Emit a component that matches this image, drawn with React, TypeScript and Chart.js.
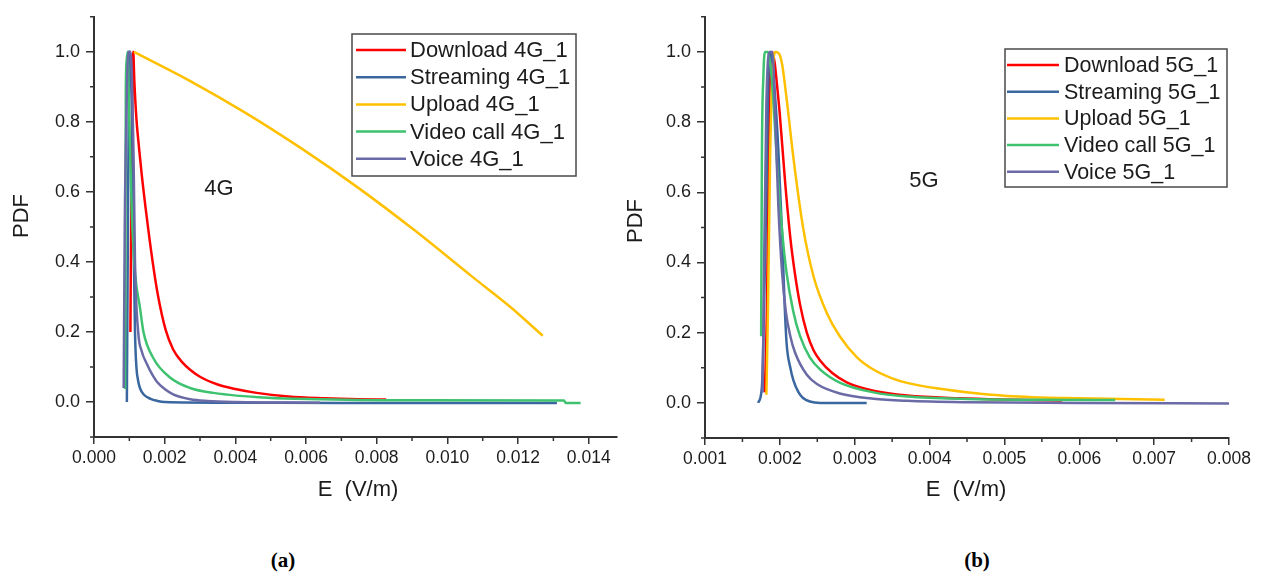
import { useEffect, useRef } from 'react';
import { Chart, registerables } from 'chart.js';

Chart.register(...registerables);

const FONT = '"Liberation Sans", Arial, sans-serif';
const AXIS = '#333333';
const TEXT = '#1c1c1c';

// ---------- colours / labels ----------
const seriesColors = ['#FF0000', '#3A67A0', '#FFC000', '#3EC270', '#6A6AA6'];
const labels4g = ['Download 4G_1', 'Streaming 4G_1', 'Upload 4G_1', 'Video call 4G_1', 'Voice 4G_1'];
const labels5g = ['Download 5G_1', 'Streaming 5G_1', 'Upload 5G_1', 'Video call 5G_1', 'Voice 5G_1'];

// ---------- 4G data (E in V/m, PDF) ----------
const download4gE = [0.00103, 0.00107, 0.00111, 0.00114, 0.0012, 0.00128, 0.00135, 0.00149, 0.00166, 0.0018, 0.00203, 0.00224, 0.0025, 0.00272, 0.003, 0.0035, 0.004, 0.0046, 0.0055, 0.0065, 0.0075, 0.00827];
const download4gPdf = [0.2, 0.75, 1.0, 0.92, 0.81, 0.72, 0.65, 0.53, 0.4, 0.31, 0.205, 0.15, 0.113, 0.092, 0.072, 0.05, 0.037, 0.026, 0.016, 0.011, 0.008, 0.007];

const streaming4gE = [0.00093, 0.00096, 0.00099, 0.00102, 0.00106, 0.0011, 0.00113, 0.00116, 0.0012, 0.00125, 0.0013, 0.0014, 0.0016, 0.0018, 0.002, 0.004, 0.007, 0.01, 0.0131];
const streaming4gPdf = [0.0, 0.5, 0.92, 1.0, 0.9, 0.65, 0.4, 0.2, 0.1, 0.06, 0.04, 0.022, 0.009, 0.003, 0.0, -0.002, -0.003, -0.003, -0.003];

const upload4gE = [0.00113, 0.0027, 0.0043, 0.0059, 0.0075, 0.0091, 0.0107, 0.0118, 0.0127];
const upload4gPdf = [1.0, 0.918, 0.825, 0.722, 0.61, 0.488, 0.358, 0.27, 0.189];

const video4gE = [0.00088, 0.0009, 0.00092, 0.00095, 0.001, 0.00107, 0.00116, 0.0013, 0.0014, 0.00168, 0.00215, 0.00272, 0.00338, 0.0049, 0.0064, 0.009, 0.0133, 0.01335, 0.01377];
const video4gPdf = [0.037, 0.88, 0.97, 1.0, 0.8, 0.54, 0.37, 0.27, 0.2, 0.125, 0.07, 0.04, 0.026, 0.012, 0.008, 0.005, 0.004, -0.003, -0.003];

const voice4gE = [0.00084, 0.00087, 0.00092, 0.00097, 0.00103, 0.00108, 0.00112, 0.00116, 0.00125, 0.00135, 0.00149, 0.00165, 0.00178, 0.002, 0.00224, 0.00272, 0.0032, 0.004, 0.0064];
const voice4gPdf = [0.04, 0.5, 0.83, 1.0, 1.0, 0.9, 0.7, 0.4, 0.2, 0.145, 0.11, 0.078, 0.058, 0.037, 0.022, 0.008, 0.003, 0.0, -0.002];

// ---------- 5G data ----------
const download5gE = [0.0018, 0.00183, 0.00186, 0.0019, 0.00193, 0.00196, 0.002, 0.00207, 0.00214, 0.0022, 0.00227, 0.00236, 0.00245, 0.00254, 0.0027, 0.0029, 0.00325, 0.0037, 0.0044, 0.005, 0.00577];
const download5gPdf = [0.03, 0.3, 0.87, 1.0, 0.97, 0.91, 0.82, 0.63, 0.47, 0.37, 0.28, 0.2, 0.15, 0.12, 0.085, 0.058, 0.035, 0.021, 0.013, 0.0095, 0.007];

const streaming5gE = [0.00171, 0.00176, 0.00178, 0.00182, 0.00185, 0.00188, 0.00192, 0.00198, 0.00203, 0.00206, 0.00209, 0.00214, 0.00218, 0.00225, 0.00231, 0.0024, 0.00254, 0.00316];
const streaming5gPdf = [0.0, 0.045, 0.18, 0.6, 0.95, 1.0, 0.92, 0.72, 0.48, 0.3, 0.17, 0.1, 0.065, 0.03, 0.014, 0.004, 0.0, 0.0];

const upload5gE = [0.00182, 0.00184, 0.00187, 0.0019, 0.00194, 0.00199, 0.00203, 0.00206, 0.0021, 0.00218, 0.00231, 0.00245, 0.00263, 0.0028, 0.00303, 0.00325, 0.0035, 0.0037, 0.00414, 0.00459, 0.00503, 0.006, 0.00714];
const upload5gPdf = [0.023, 0.25, 0.7, 0.93, 1.0, 0.995, 0.965, 0.92, 0.85, 0.7, 0.5, 0.36, 0.255, 0.19, 0.13, 0.095, 0.07, 0.057, 0.04, 0.028, 0.02, 0.013, 0.009];

const video5gE = [0.00175, 0.00176, 0.00178, 0.0018, 0.00184, 0.00188, 0.00192, 0.00196, 0.00203, 0.00209, 0.00218, 0.00227, 0.0024, 0.00254, 0.0028, 0.00325, 0.0037, 0.0045, 0.0055, 0.00648];
const video5gPdf = [0.19, 0.7, 0.93, 1.0, 1.0, 0.95, 0.84, 0.69, 0.49, 0.37, 0.26, 0.19, 0.13, 0.095, 0.058, 0.03, 0.018, 0.011, 0.009, 0.008];

const voice5gE = [0.00177, 0.00179, 0.00182, 0.00186, 0.0019, 0.00194, 0.00198, 0.00203, 0.00208, 0.00214, 0.0022, 0.00236, 0.0025, 0.0028, 0.00325, 0.0037, 0.0045, 0.006, 0.008];
const voice5gPdf = [0.03, 0.4, 0.85, 1.0, 1.0, 0.8, 0.56, 0.37, 0.26, 0.19, 0.145, 0.08, 0.053, 0.027, 0.012, 0.006, 0.002, 0.0, -0.002];

// ---------- ticks ----------
const yMajorTicks = [0, 0.2, 0.4, 0.6, 0.8, 1.0];
const yMinorTicks = [-0.1, 0.1, 0.3, 0.5, 0.7, 0.9, 1.1];
const x4gMajorTicks = [0, 0.002, 0.004, 0.006, 0.008, 0.01, 0.012, 0.014];
const x4gMinorTicks = [0.001, 0.003, 0.005, 0.007, 0.009, 0.011, 0.013];
const x5gMajorTicks = [0.001, 0.002, 0.003, 0.004, 0.005, 0.006, 0.007, 0.008];
const x5gMinorTicks = [0.0015, 0.0025, 0.0035, 0.0045, 0.0055, 0.0065, 0.0075];

type Series = { label: string; e: number[]; pdf: number[]; color: string };

const series4g: Series[] = [
  { label: labels4g[0], e: download4gE, pdf: download4gPdf, color: seriesColors[0] },
  { label: labels4g[1], e: streaming4gE, pdf: streaming4gPdf, color: seriesColors[1] },
  { label: labels4g[2], e: upload4gE, pdf: upload4gPdf, color: seriesColors[2] },
  { label: labels4g[3], e: video4gE, pdf: video4gPdf, color: seriesColors[3] },
  { label: labels4g[4], e: voice4gE, pdf: voice4gPdf, color: seriesColors[4] },
];
const series5g: Series[] = [
  { label: labels5g[0], e: download5gE, pdf: download5gPdf, color: seriesColors[0] },
  { label: labels5g[1], e: streaming5gE, pdf: streaming5gPdf, color: seriesColors[1] },
  { label: labels5g[2], e: upload5gE, pdf: upload5gPdf, color: seriesColors[2] },
  { label: labels5g[3], e: video5gE, pdf: video5gPdf, color: seriesColors[3] },
  { label: labels5g[4], e: voice5gE, pdf: voice5gPdf, color: seriesColors[4] },
];

type Decor = {
  minorX: number[];
  minorY: number[];
  legend: { x: number; y: number; w: number; h: number; lx1: number; lx2: number; tx: number; row0: number; gap: number; font: number };
  note: { text: string; x: number; y: number };
  xTitle: { text: string; x: number; y: number };
  yTitle: { text: string; x: number; y: number };
};

function makeDecor(d: Decor) {
  return {
    id: 'decor',
    afterDraw(chart: any) {
      const ctx: CanvasRenderingContext2D = chart.ctx;
      const xs = chart.scales.x;
      const ys = chart.scales.y;
      const a = chart.chartArea;
      ctx.save();
      // minor ticks
      ctx.strokeStyle = AXIS;
      ctx.lineWidth = 1.5;
      ctx.beginPath();
      d.minorX.forEach((v) => {
        const px = xs.getPixelForValue(v);
        ctx.moveTo(px, a.bottom);
        ctx.lineTo(px, a.bottom + 4);
      });
      d.minorY.forEach((v) => {
        const py = ys.getPixelForValue(v);
        ctx.moveTo(a.left, py);
        ctx.lineTo(a.left - 4, py);
      });
      ctx.stroke();

      // axis titles
      ctx.fillStyle = TEXT;
      ctx.font = `22px ${FONT}`;
      ctx.textAlign = 'center';
      ctx.textBaseline = 'middle';
      ctx.fillText(d.xTitle.text, d.xTitle.x, d.xTitle.y);
      ctx.save();
      ctx.translate(d.yTitle.x, d.yTitle.y);
      ctx.rotate(-Math.PI / 2);
      ctx.fillText(d.yTitle.text, 0, 0);
      ctx.restore();

      // annotation
      ctx.fillText(d.note.text, d.note.x, d.note.y);

      // legend
      const L = d.legend;
      ctx.strokeStyle = '#4a4a4a';
      ctx.lineWidth = 1.5;
      ctx.strokeRect(L.x, L.y, L.w, L.h);
      ctx.font = `${L.font}px ${FONT}`;
      ctx.textAlign = 'left';
      chart.data.datasets.forEach((ds: any, i: number) => {
        const y = L.row0 + i * L.gap;
        ctx.strokeStyle = ds.borderColor;
        ctx.lineWidth = 2.5;
        ctx.beginPath();
        ctx.moveTo(L.lx1, y);
        ctx.lineTo(L.lx2, y);
        ctx.stroke();
        ctx.fillStyle = TEXT;
        ctx.fillText(ds.label, L.tx, y + 1);
      });
      ctx.restore();
    },
  };
}

function buildChart(
  canvas: HTMLCanvasElement,
  series: Series[],
  xMin: number,
  xMax: number,
  xMajor: number[],
  yAxisWidth: number,
  xAxisHeight: number,
  padTop: number,
  padRight: number,
  decor: Decor,
) {
  return new Chart(canvas, {
    type: 'line',
    data: {
      datasets: series.map((s, i) => ({
        label: s.label,
        data: s.e.map((x, k) => ({ x, y: s.pdf[k] })),
        borderColor: s.color,
        backgroundColor: s.color,
        borderWidth: 2.5,
        pointRadius: 0,
        fill: false,
        cubicInterpolationMode: 'monotone' as const,
        order: series.length - i,
      })),
    },
    options: {
      animation: false,
      responsive: false,
      devicePixelRatio: 1,
      layout: { padding: { left: 0, top: padTop, right: padRight, bottom: 0 } },
      plugins: { legend: { display: false }, tooltip: { enabled: false } },
      scales: {
        x: {
          type: 'linear',
          min: xMin,
          max: xMax,
          afterBuildTicks: (scale: any) => {
            scale.ticks = xMajor.map((v) => ({ value: v }));
          },
          afterFit: (scale: any) => {
            scale.height = xAxisHeight;
          },
          ticks: {
            callback: (v: any) => Number(v).toFixed(3),
            font: { family: FONT, size: 17.5 },
            color: TEXT,
            padding: 4,
            maxRotation: 0,
            autoSkip: false,
          },
          grid: { drawOnChartArea: false, drawTicks: true, tickLength: 7, color: AXIS, lineWidth: 1.5 },
          border: { display: true, color: AXIS, width: 2 },
        },
        y: {
          type: 'linear',
          min: -0.1,
          max: 1.1,
          afterBuildTicks: (scale: any) => {
            scale.ticks = yMajorTicks.map((v) => ({ value: v }));
          },
          afterFit: (scale: any) => {
            scale.width = yAxisWidth;
          },
          ticks: {
            callback: (v: any) => Number(v).toFixed(1),
            font: { family: FONT, size: 18 },
            color: TEXT,
            padding: 6,
            autoSkip: false,
          },
          grid: { drawOnChartArea: false, drawTicks: true, tickLength: 8, color: AXIS, lineWidth: 1.5 },
          border: { display: true, color: AXIS, width: 2 },
        },
      },
    },
    plugins: [makeDecor(decor)],
  } as any);
}

export default function App() {
  const ref4g = useRef<HTMLCanvasElement>(null);
  const ref5g = useRef<HTMLCanvasElement>(null);

  useEffect(() => {
    document.body.style.margin = '0';
    const c1 = buildChart(ref4g.current!, series4g, 0, 0.0148, x4gMajorTicks, 94, 83, 11, 23, {
      minorX: x4gMinorTicks,
      minorY: yMinorTicks,
      legend: { x: 352, y: 34, w: 224, h: 142, lx1: 356, lx2: 406, tx: 410, row0: 50, gap: 27.2, font: 22 },
      note: { text: '4G', x: 219, y: 189 },
      xTitle: { text: 'E  (V/m)', x: 358, y: 490 },
      yTitle: { text: 'PDF', x: 22, y: 216 },
    });
    const c2 = buildChart(ref5g.current!, series5g, 0.001, 0.008, x5gMajorTicks, 95, 82, 16, 34, {
      minorX: x5gMinorTicks,
      minorY: yMinorTicks,
      legend: { x: 395, y: 49, w: 222, h: 138, lx1: 397, lx2: 449, tx: 454, row0: 65, gap: 26.7, font: 21.5 },
      note: { text: '5G', x: 314, y: 181 },
      xTitle: { text: 'E  (V/m)', x: 356, y: 490 },
      yTitle: { text: 'PDF', x: 26, y: 221 },
    });
    return () => {
      c1.destroy();
      c2.destroy();
    };
  }, []);

  const caption: React.CSSProperties = {
    position: 'absolute',
    top: 547,
    width: 100,
    textAlign: 'center',
    fontFamily: '"Liberation Serif", "Times New Roman", serif',
    fontWeight: 'bold',
    fontSize: 21,
    lineHeight: '26px',
    color: '#000',
  };

  return (
    <div style={{ position: 'absolute', left: 0, top: 0, width: 1263, height: 577, background: '#fff', overflow: 'hidden' }}>
      <canvas ref={ref4g} width={640} height={520} style={{ position: 'absolute', left: 0, top: 0 }} />
      <canvas ref={ref5g} width={653} height={520} style={{ position: 'absolute', left: 610, top: 0 }} />
      <div style={{ ...caption, left: 233 }}>(a)</div>
      <div style={{ ...caption, left: 927 }}>(b)</div>
    </div>
  );
}
